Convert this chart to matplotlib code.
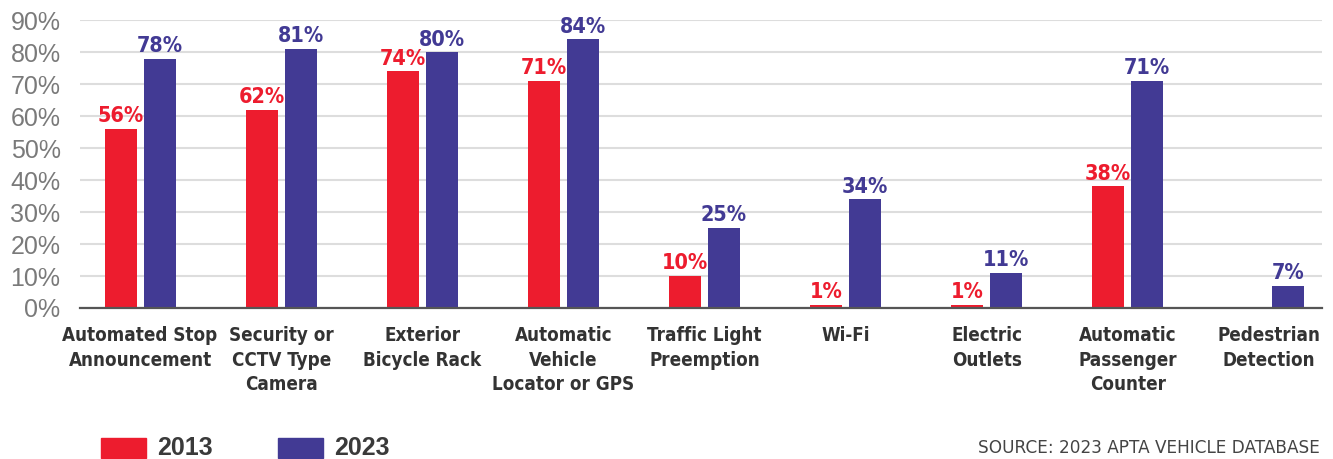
import matplotlib.pyplot as plt
import numpy as np
from matplotlib.patches import Rectangle

categories = ['Automated Stop\nAnnouncement', 'Security or\nCCTV Type\nCamera', 'Exterior\nBicycle Rack',
              'Automatic\nVehicle\nLocator or GPS', 'Traffic Light\nPreemption', 'Wi-Fi',
              'Electric\nOutlets', 'Automatic\nPassenger\nCounter', 'Pedestrian\nDetection']
vals_2013 = [56, 62, 74, 71, 10, 1, 1, 38, None]
vals_2023 = [78, 81, 80, 84, 25, 34, 11, 71, 7]
yticks = [0, 10, 20, 30, 40, 50, 60, 70, 80, 90]

red = '#ED1C2E'
blue = '#423A94'

fig = plt.figure(figsize=(13.33, 4.59), dpi=100)
ax = fig.add_axes([0.060, 0.329, 0.932, 0.627])

x = np.arange(len(categories))
w = 0.227
off = 0.138
for i in range(len(categories)):
    if vals_2013[i] is not None:
        ax.bar(x[i] - off, vals_2013[i], w, color=red, zorder=3)
        ax.text(x[i] - off, vals_2013[i] + 0.8, f'{vals_2013[i]}%', ha='center', va='bottom',
                color=red, fontsize=15.5, fontweight='bold', family='DejaVu Sans', fontstretch='condensed')
    ax.bar(x[i] + off, vals_2023[i], w, color=blue, zorder=3)
    ax.text(x[i] + off, vals_2023[i] + 0.8, f'{vals_2023[i]}%', ha='center', va='bottom',
            color=blue, fontsize=15.5, fontweight='bold', family='DejaVu Sans', fontstretch='condensed')

ax.set_xlim(-0.426, 8.38)
ax.set_ylim(0, 90)
ax.set_yticks(yticks)
ax.set_yticklabels([f'{t}%' for t in yticks], fontsize=18, color='#7a7a7a', family='Liberation Sans')
ax.set_xticks(x)
ax.set_xticklabels(categories, fontsize=13.5, fontweight='bold', color='#333333',
                   family='DejaVu Sans', fontstretch='condensed', linespacing=1.38, va='top')
ax.tick_params(axis='both', length=0)
ax.tick_params(axis='y', pad=14)
ax.tick_params(axis='x', pad=13)
ax.grid(axis='y', color='#dddddd', lw=1.5, zorder=0)
for s in ['top', 'right', 'left']:
    ax.spines[s].set_visible(False)
ax.spines['bottom'].set_color('#555555')
ax.spines['bottom'].set_linewidth(1.6)
ax.spines['bottom'].set_zorder(4)

# legend
for px, col, lab in [(101, red, '2013'), (278, blue, '2023')]:
    fig.patches.append(Rectangle((px / 1333, 1 - 458 / 459), 45 / 1333, 20 / 459,
                                 transform=fig.transFigure, color=col))
    fig.text((px + 56) / 1333, 1 - 448 / 459, lab, fontsize=18, fontweight='bold',
             color='#3a3a3a', va='center', ha='left', family='Liberation Sans')

fig.text(1320 / 1333, 1 - 448 / 459, 'SOURCE: 2023 APTA VEHICLE DATABASE', fontsize=12.2,
         color='#444444', ha='right', va='center', family='DejaVu Sans', fontstretch='normal')

plt.savefig('out.png', dpi=100)
